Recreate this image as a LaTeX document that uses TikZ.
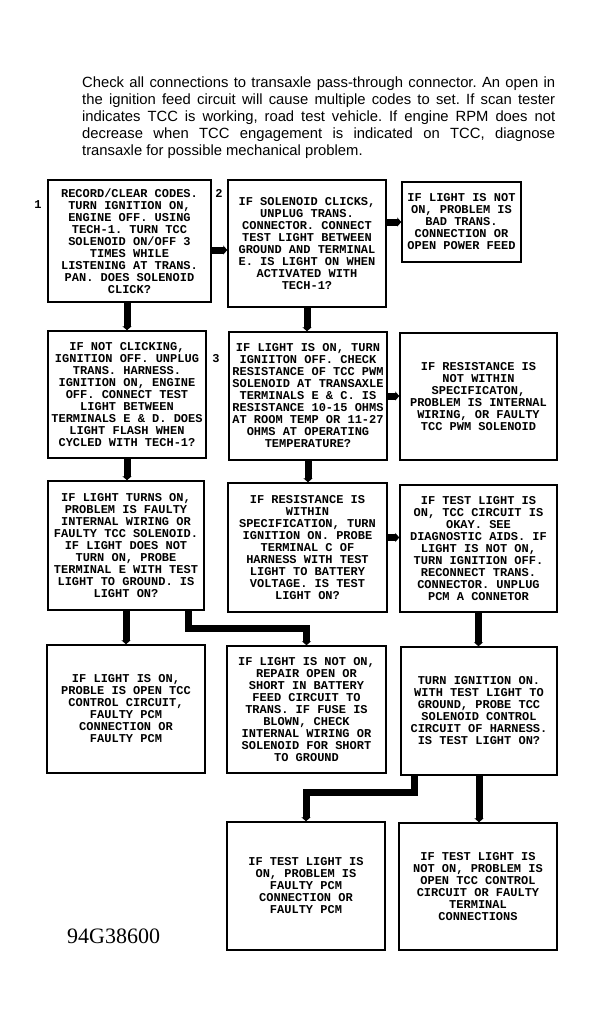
\documentclass[tikz,border=0pt]{standalone}
\usepackage{fontspec}
\usetikzlibrary{arrows.meta,positioning,calc}
\newfontfamily\parafont{Liberation Sans}
\newfontfamily\boxfont{Liberation Mono}
\newfontfamily\idfont{Liberation Serif}
\newcommand{\boxtext}{\boxfont\bfseries\fontsize{12}{12}\selectfont}
\frenchspacing

\begin{document}
\begin{tikzpicture}[x=1pt,y=-1pt,
  box/.style={draw,line width=1.5pt,align=center,inner sep=0pt,font=\boxtext,
    minimum width=158pt,minimum height=128pt},
  flow/.style={line width=7pt,-{Triangle[length=4pt,width=9pt]}},
  stepno/.style={font=\boxtext,inner sep=0pt}]
  \path[fill=white,use as bounding box] (0,0) rectangle (597,1028);

  \node[anchor=north west,inner sep=0pt,text width=473pt,align=justify,
    font=\parafont\fontsize{14.8}{17}\selectfont] (intro) at (82,76.5)
    {Check all connections to transaxle pass-through connector. An open in\linebreak
     the ignition feed circuit will cause multiple codes to set. If scan tester\linebreak
     indicates TCC is working, road test vehicle. If engine RPM does not\linebreak
     decrease when TCC engagement is indicated on TCC, diagnose\linebreak
     transaxle for possible mechanical problem.};

  % row 1
  \node[box,minimum width=163pt,minimum height=122pt] (b1) at (129.5,241)
    {RECORD/CLEAR CODES.\\TURN IGNITION ON,\\ENGINE OFF. USING\\TECH-1. TURN TCC\\
     SOLENOID ON/OFF 3\\TIMES WHILE\\LISTENING AT TRANS.\\PAN. DOES SOLENOID\\CLICK?};
  \node[box,minimum height=127pt] (b2) at (307,243.5)
    {IF SOLENOID CLICKS,\\UNPLUG TRANS.\\CONNECTOR. CONNECT\\TEST LIGHT BETWEEN\\
     GROUND AND TERMINAL\\E. IS LIGHT ON WHEN\\ACTIVATED WITH\\TECH-1?};
  \node[box,minimum width=119pt,minimum height=80pt] (b3) at (461.5,222)
    {IF LIGHT IS NOT\\ON, PROBLEM IS\\BAD TRANS.\\CONNECTION OR\\OPEN POWER FEED};
  \node[stepno] (n1) at (38,205) {1};
  \node[stepno] (n2) at (219,193) {2};
  \node[stepno] (n3) at (216,359) {3};

  % row 2
  \node[box,minimum height=127pt] (b4) at (127,394.5)
    {IF NOT CLICKING,\\IGNITION OFF. UNPLUG\\TRANS. HARNESS.\\IGNITION ON, ENGINE\\
     OFF. CONNECT TEST\\LIGHT BETWEEN\\TERMINALS E \& D. DOES\\LIGHT FLASH WHEN\\
     CYCLED WITH TECH-1?};
  \node[box] (b5) at (308,396)
    {IF LIGHT IS ON, TURN\\IGNIITON OFF. CHECK\\RESISTANCE OF TCC PWM\\
     SOLENOID AT TRANSAXLE\\TERMINALS E \& C. IS\\RESISTANCE 10-15 OHMS\\
     AT ROOM TEMP OR 11-27\\OHMS AT OPERATING\\TEMPERATURE?};
  \node[box,minimum width=157pt,minimum height=127pt] (b6) at (478.5,396.5)
    {IF RESISTANCE IS\\NOT WITHIN\\SPECIFICATON,\\PROBLEM IS INTERNAL\\
     WIRING, OR FAULTY\\TCC PWM SOLENOID};

  % row 3
  \node[box,minimum width=156pt,minimum height=129pt] (b7) at (126,545.5)
    {IF LIGHT TURNS ON,\\PROBLEM IS FAULTY\\INTERNAL WIRING OR\\FAULTY TCC SOLENOID.\\
     IF LIGHT DOES NOT\\TURN ON, PROBE\\TERMINAL E WITH TEST\\LIGHT TO GROUND. IS\\
     LIGHT ON?};
  \node[box,minimum width=159pt,minimum height=129pt] (b8) at (307.5,547.5)
    {IF RESISTANCE IS\\WITHIN\\SPECIFICATION, TURN\\IGNITION ON. PROBE\\
     TERMINAL C OF\\HARNESS WITH TEST\\LIGHT TO BATTERY\\VOLTAGE. IS TEST\\LIGHT ON?};
  \node[box,minimum width=157pt,minimum height=127pt] (b9) at (478.5,548.5)
    {IF TEST LIGHT IS\\ON, TCC CIRCUIT IS\\OKAY. SEE\\DIAGNOSTIC AIDS. IF\\
     LIGHT IS NOT ON,\\TURN IGNITION OFF.\\RECONNECT TRANS.\\CONNECTOR. UNPLUG\\
     PCM A CONNETOR};

  % row 4
  \node[box] (b10) at (126,709)
    {IF LIGHT IS ON,\\PROBLE IS OPEN TCC\\CONTROL CIRCUIT,\\FAULTY PCM\\
     CONNECTION OR\\FAULTY PCM};
  \node[box,minimum width=159pt,minimum height=127pt] (b11) at (306.5,709.5)
    {IF LIGHT IS NOT ON,\\REPAIR OPEN OR\\SHORT IN BATTERY\\FEED CIRCUIT TO\\
     TRANS. IF FUSE IS\\BLOWN, CHECK\\INTERNAL WIRING OR\\SOLENOID FOR SHORT\\TO GROUND};
  \node[box,minimum width=156pt] (b12) at (479,711)
    {TURN IGNITION ON.\\WITH TEST LIGHT TO\\GROUND, PROBE TCC\\SOLENOID CONTROL\\
     CIRCUIT OF HARNESS.\\IS TEST LIGHT ON?};

  % row 5
  \node[box] (b13) at (306,886)
    {IF TEST LIGHT IS\\ON, PROBLEM IS\\FAULTY PCM\\CONNECTION OR\\FAULTY PCM};
  \node[box,minimum height=127pt] (b14) at (478,886.5)
    {IF TEST LIGHT IS\\NOT ON, PROBLEM IS\\OPEN TCC CONTROL\\CIRCUIT OR FAULTY\\
     TERMINAL\\CONNECTIONS};

  \node[anchor=base west,inner sep=0pt,font=\idfont\fontsize{22}{22}\selectfont]
    (figid) at (67,943) {94G38600};

  % connectors
  \draw[flow] ([yshift=-9pt]b1.east) -- ([yshift=-9pt]b1.east -| b2.west);
  \draw[flow] (b3.west -| b2.east) -- (b3.west);
  \draw[flow] (b4.north |- b1.south) -- (b4.north);
  \draw[flow] (b2.south) -- (b2.south |- b5.north);
  \draw[flow] (b5.east) -- (b5.east -| b6.west);
  \draw[flow] (b4.south) -- (b4.south |- b7.north);
  \draw[flow] (b5.south) -- (b5.south |- b8.north);
  \draw[flow] ([yshift=10pt]b8.east) -- ([yshift=10pt]b8.east -| b9.west);
  \draw[flow] (b7.south) -- (b7.south |- b10.north);
  \draw[flow] ([xshift=62pt]b7.south) -- ++(0,18) -| (b11.north);
  \draw[flow] (b9.south) -- (b9.south |- b12.north);
  \draw[flow] ([xshift=-65pt]b12.south) -- ++(0,17) -| (b13.north);
  \draw[flow] (b12.south) -- (b12.south |- b14.north);
\end{tikzpicture}
\end{document}
